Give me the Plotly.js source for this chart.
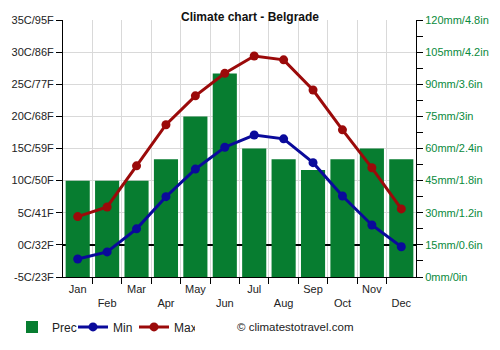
<!DOCTYPE html>
<html><head><meta charset="utf-8">
<script src="https://cdn.plot.ly/plotly-3.0.1.min.js"></script>
<style>body{margin:0}#c{width:500px;height:350px}</style>
</head><body><div id="c"></div>
<script>
const months = ["Jan","Feb","Mar","Apr","May","Jun","Jul","Aug","Sep","Oct","Nov","Dec"];
const prec = [45,45,45,55,75,95,60,55,50,55,60,55];
const tmin = [-2.2,-1.1,2.5,7.5,11.8,15.2,17.1,16.5,12.8,7.6,3.1,-0.3];
const tmax = [4.4,5.9,12.3,18.7,23.2,26.7,29.4,28.8,24.1,17.9,12.0,5.6];
const leftTicks = ["-5C/23F","0C/32F","5C/41F","10C/50F","15C/59F","20C/68F","25C/77F","30C/86F","35C/95F"];
const leftVals = [-5,0,5,10,15,20,25,30,35];
const rightVals = [0,7.5,15,22.5,30,37.5,45,52.5,60,67.5,75,82.5,90,97.5,105,112.5,120];
const rightTicks = ["0mm/0in","","15mm/0.6in","","30mm/1.2in","","45mm/1.8in","","60mm/2.4in","","75mm/3in","","90mm/3.6in","","105mm/4.2in","","120mm/4.8in"];

const xs = months.map((m,i)=>i+1);
const xlabels = months.map((m,i)=> i%2===0 ? m : "<br>"+m);
const bounds = months.slice(1).map((m,i)=>i+1.5);

const green = "#077d30", blue = "#0a0a9b", red = "#9b0a0a";
const font = "Liberation Sans, Arial, sans-serif";

const traces = [
  {type:"scatter", mode:"none", x:[1], y:[0], xaxis:"x2", yaxis:"y", showlegend:false, hoverinfo:"skip"},
  {type:"bar", x:xs, y:prec, name:"Prec", yaxis:"y", marker:{color:green}, hoverinfo:"skip"},
  {type:"scatter", mode:"lines+markers", x:xs, y:tmin, name:"Min", yaxis:"y2", line:{color:blue,width:3}, marker:{size:9,color:blue}},
  {type:"scatter", mode:"lines+markers", x:xs, y:tmax, name:"Max", yaxis:"y2", line:{color:red,width:3}, marker:{size:9,color:red}}
];

const layout = {
  width:500, height:350,
  margin:{l:63, r:84, t:20, b:73, autoexpand:false},
  paper_bgcolor:"#fff", plot_bgcolor:"#fff",
  font:{family:font, size:11, color:"#222"},
  title:{text:"<b>Climate chart - Belgrade</b>", x:0.5, xanchor:"center", y:0.965, font:{size:12, color:"#111", family:font}},
  bargap:0.18,
  showlegend:true,
  legend:{orientation:"h", xref:"container", yref:"container", x:0.024, y:0.066, xanchor:"left", yanchor:"middle", font:{size:12,color:"#222"}, entrywidth:16, entrywidthmode:"pixels", traceorder:"normal"},
  xaxis:{range:[0.5,12.5], tickvals:xs, ticktext:xlabels, ticks:"", ticklabelstandoff:4, showgrid:false, zeroline:false, showline:false, tickfont:{size:11,color:"#222"}, automargin:false},
  xaxis2:{overlaying:"x", range:[0.5,12.5], tickvals:bounds, showticklabels:false, ticks:"outside", ticklen:6, tickcolor:"#000", showgrid:true, gridcolor:"#d9d9d9", gridwidth:1, zeroline:false, showline:true, linecolor:"#000", linewidth:1, side:"bottom", anchor:"y", automargin:false},
  yaxis:{range:[0,120], side:"right", tickvals:rightVals, ticktext:rightTicks, ticks:"outside", ticklen:6, tickcolor:"#000", showline:true, linecolor:"#000", linewidth:1, showgrid:false, zeroline:false, tickfont:{size:11,color:"#0a8a3c"}, automargin:false},
  yaxis2:{range:[-5,35], overlaying:"y", side:"left", tickvals:leftVals, ticktext:leftTicks, ticks:"outside", ticklen:6, tickcolor:"#000", showline:true, linecolor:"#000", linewidth:1, showgrid:true, gridcolor:"#d9d9d9", zeroline:true, zerolinecolor:"#000", zerolinewidth:1.5, tickfont:{size:11,color:"#222"}, automargin:false},
  annotations:[{text:"© climatestotravel.com", xref:"paper", yref:"paper", x:0.487, y:-0.195, xanchor:"left", yanchor:"middle", showarrow:false, font:{size:11.5,color:"#222"}}]
};
Plotly.newPlot("c", traces, layout, {displayModeBar:false, staticPlot:true});
</script></body></html>
